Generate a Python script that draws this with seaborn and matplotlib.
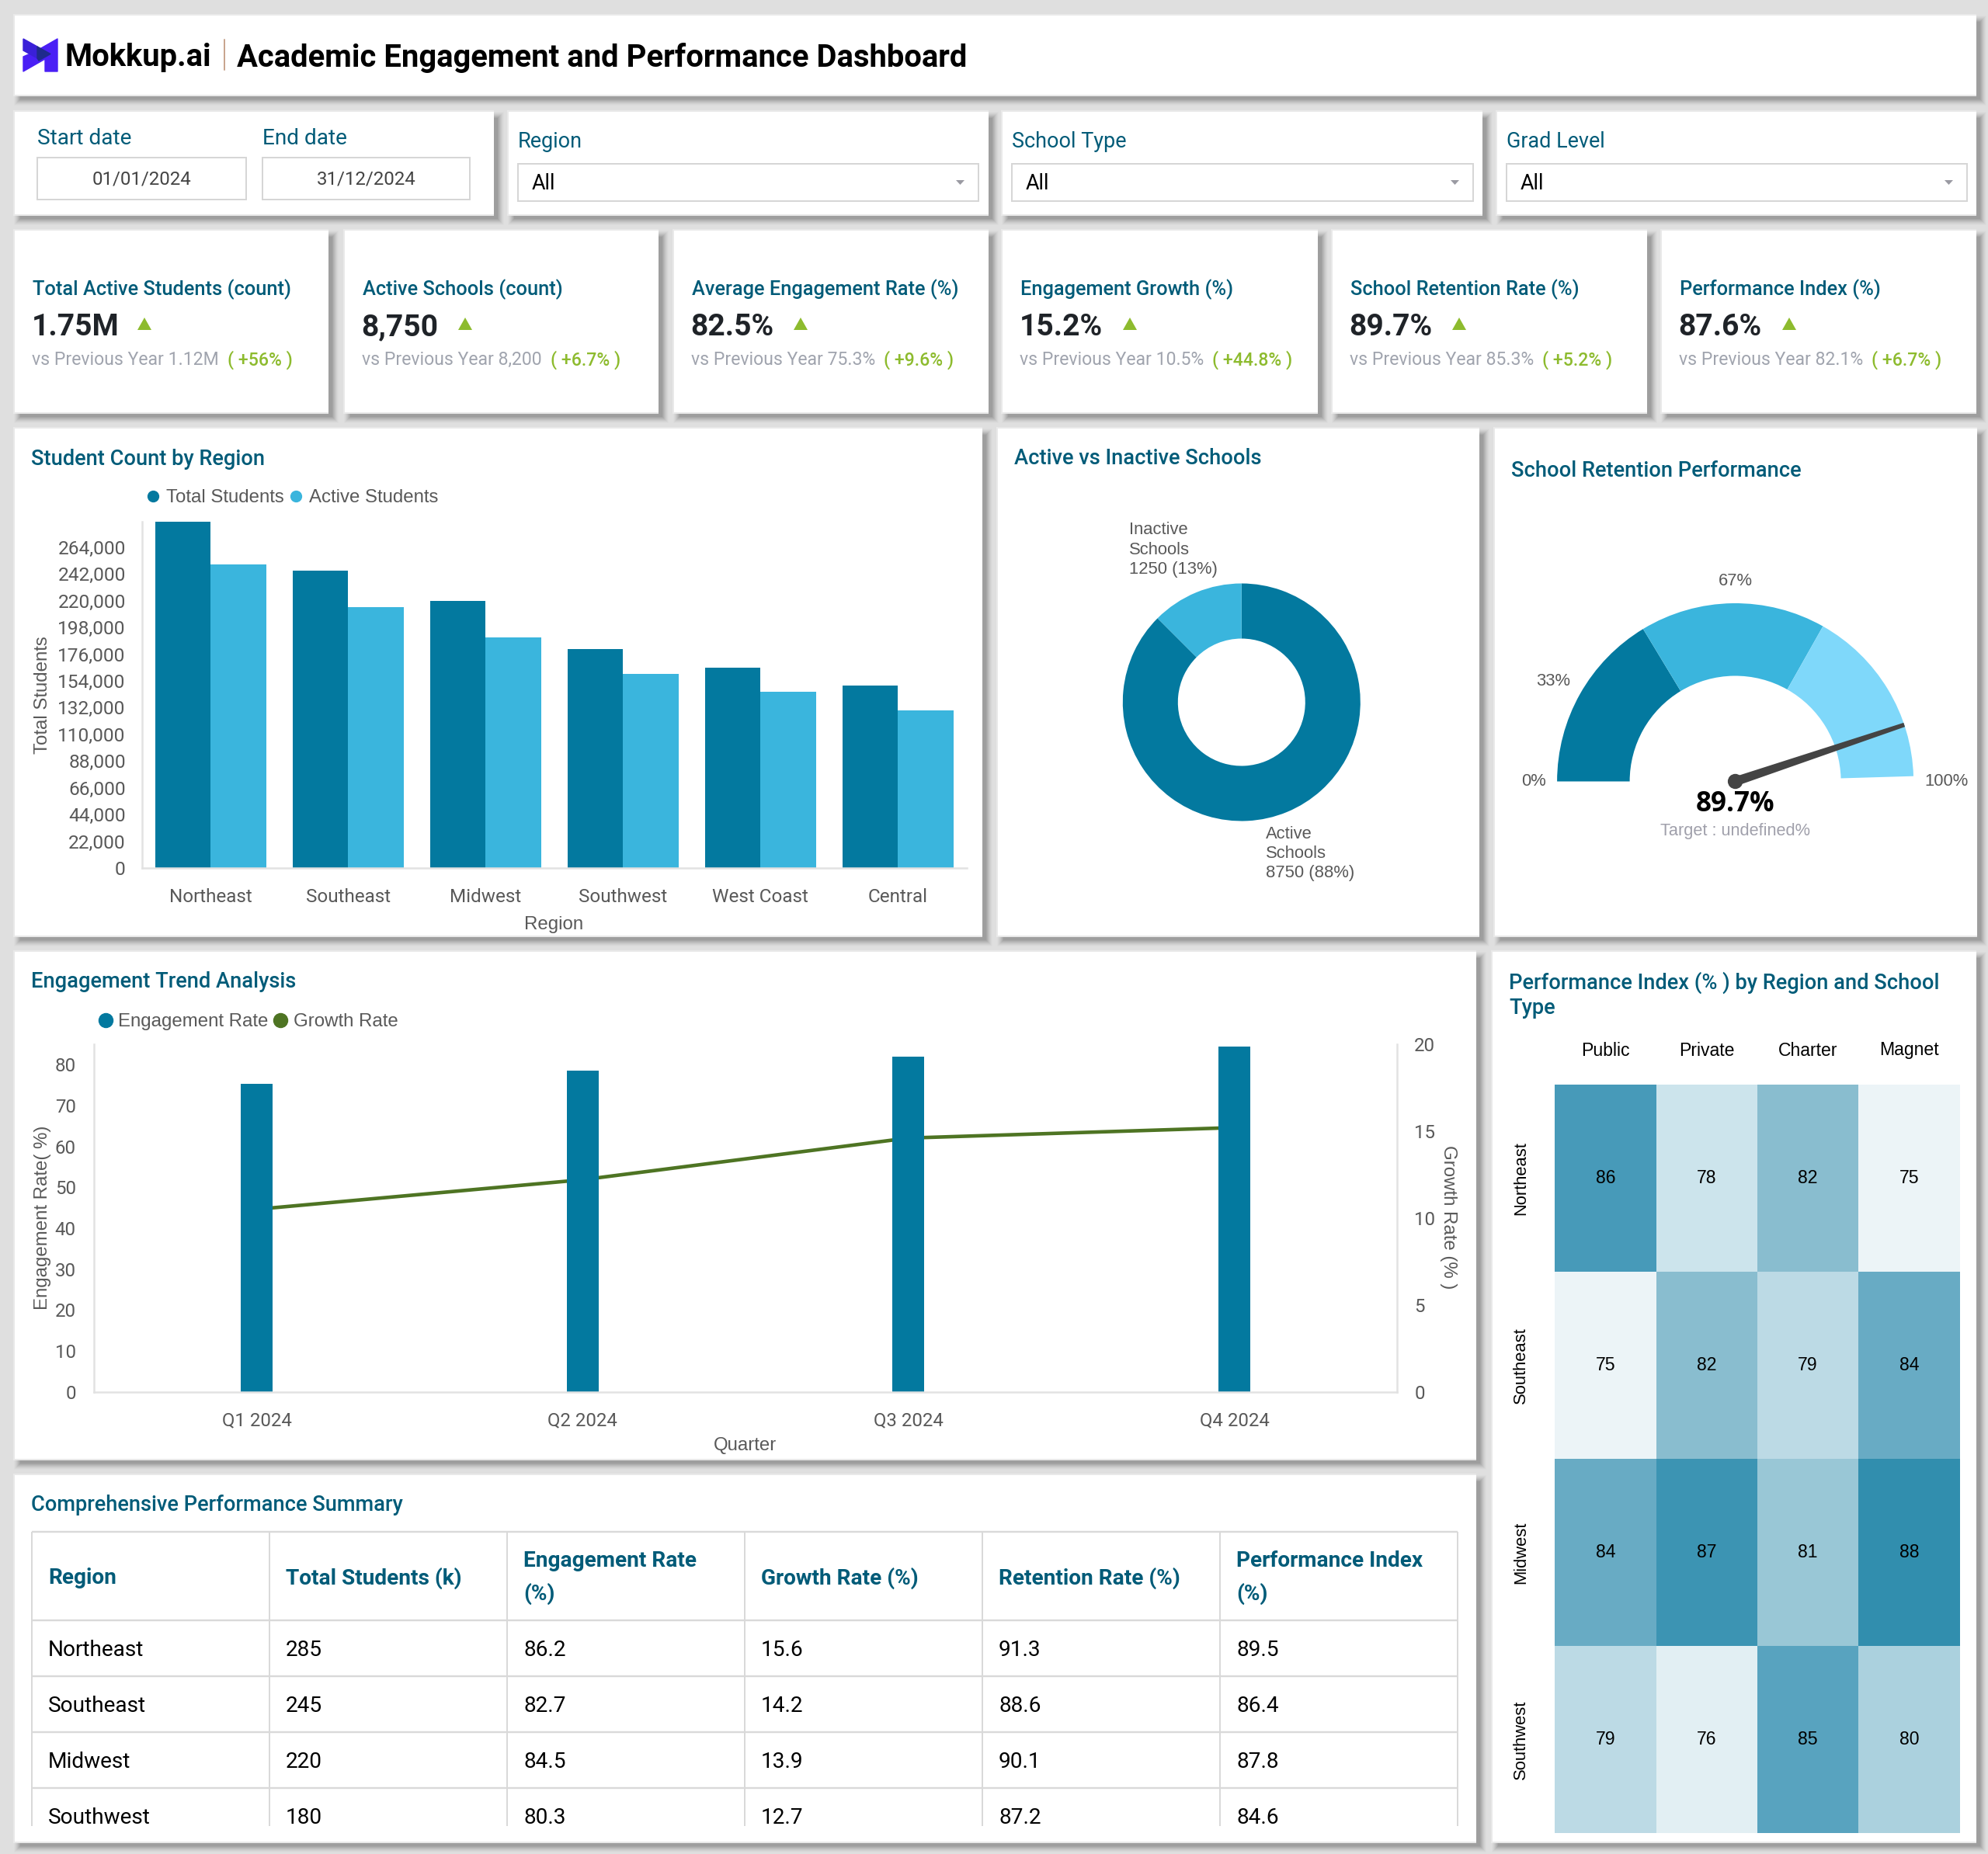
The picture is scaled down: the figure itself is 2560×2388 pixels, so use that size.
import numpy as np
import pandas as pd
import seaborn as sns
import matplotlib
matplotlib.use("Agg")
import matplotlib.pyplot as plt
from matplotlib.patches import Rectangle, Polygon, Circle
from matplotlib.lines import Line2D
from matplotlib.colors import LinearSegmentedColormap
from matplotlib.ticker import FuncFormatter

# ---------- data ----------
regions = ["Northeast", "Southeast", "Midwest", "Southwest", "West Coast", "Central"]
total_students = [285000, 245000, 220000, 180000, 165000, 150000]
active_students = [250000, 215000, 190000, 160000, 145000, 130000]
student_ticks = list(range(0, 264001, 22000))

school_labels = ["Active\nSchools\n8750 (88%)", "Inactive\nSchools\n1250 (13%)"]
school_values = [8750, 1250]

gauge_bands = [33, 34, 33]
gauge_ticks = ["0%", "33%", "67%", "100%"]
retention_value = 89.7

quarters = ["Q1 2024", "Q2 2024", "Q3 2024", "Q4 2024"]
engagement_rate = [75.3, 78.5, 82, 84.5]
growth_rate = [10.5, 12.2, 14.6, 15.2]

heat_cols = ["Public", "Private", "Charter", "Magnet"]
heat_rows = ["Northeast", "Southeast", "Midwest", "Southwest"]
heat_northeast = [86, 78, 82, 75]
heat_southeast = [75, 82, 79, 84]
heat_midwest = [84, 87, 81, 88]
heat_southwest = [79, 76, 85, 80]

table_headers = ["Region", "Total Students (k)", "Engagement Rate\n(%)", "Growth Rate (%)",
                 "Retention Rate (%)", "Performance Index\n(%)"]
table_regions = ["Northeast", "Southeast", "Midwest", "Southwest"]
table_students = ["285", "245", "220", "180"]
table_engagement = ["86.2", "82.7", "84.5", "80.3"]
table_growth = ["15.6", "14.2", "13.9", "12.7"]
table_retention = ["91.3", "88.6", "90.1", "87.2"]
table_performance = ["89.5", "86.4", "87.8", "84.6"]

kpi_titles = ["Total Active Students (count)", "Active Schools (count)", "Average Engagement Rate (%)",
              "Engagement Growth (%)", "School Retention Rate (%)", "Performance Index (%)"]
kpi_values = ["1.75M", "8,750", "82.5%", "15.2%", "89.7%", "87.6%"]
kpi_prev = ["1.12M", "8,200", "75.3%", "10.5%", "85.3%", "82.1%"]
kpi_delta = ["+56%", "+6.7%", "+9.6%", "+44.8%", "+5.2%", "+6.7%"]

# ---------- style ----------
W, H = 2560, 2388
DPI = 100
BG = "#DFDFDF"
TEAL = "#005B78"
C1, C2, C3 = "#03799F", "#3AB5DD", "#7FD8FA"
GREEN = "#8DBB2E"
GREY = "#595959"
AXLINE = "#E2E2E2"
ROB = ["Roboto", "DejaVu Sans"]
LIB = ["Liberation Sans", "DejaVu Sans"]

sns.set_theme(style="white")
plt.rcParams["font.family"] = ROB


def pt(px):
    return px * 72 / DPI


def pos(x0, y0, x1, y1):
    return [x0 / W, 1 - y1 / H, (x1 - x0) / W, (y1 - y0) / H]


fig = plt.figure(figsize=(W / DPI, H / DPI), dpi=DPI, facecolor=BG)
ax0 = fig.add_axes([0, 0, 1, 1], zorder=0)
ax0.set_xlim(0, W)
ax0.set_ylim(H, 0)
ax0.axis("off")


def T(x, y, s, px=24, color="black", family=ROB, weight=400, ha="left", va="center", **kw):
    return ax0.text(x, y + 3, s, fontsize=pt(px), color=color, family=family, fontweight=weight,
                    ha=ha, va=va, **kw)


def panel(x0, y0, x1, y1):
    for i, a in zip(range(9, 0, -1), [.02, .03, .04, .05, .06, .07, .08, .09, .10]):
        ax0.add_patch(Rectangle((x0 + 6 - i + 2, y0 + 7 - i + 2), x1 - x0 + 2 * i - 4, y1 - y0 + 2 * i - 4,
                                fc="#505050", ec="none", alpha=a, zorder=1))
    ax0.add_patch(Rectangle((x0 - 2, y0 - 2), x1 - x0 + 2, y1 - y0 + 4, fc="#E9E9E9", ec="none", zorder=1.5))
    ax0.add_patch(Rectangle((x0, y0), x1 - x0, y1 - y0, fc="white", ec="none", zorder=2))


def box(x0, y0, x1, y1):
    ax0.add_patch(Rectangle((x0, y0), x1 - x0, y1 - y0, fc="white", ec="#D6D6D6", lw=pt(2), zorder=3))


TZ = dict(zorder=5)

# panels
panel(19, 20, 2545, 122)
panel(19, 144, 636, 276)
panel(655, 144, 1273, 276)
panel(1291, 144, 1909, 276)
panel(1928, 144, 2545, 276)
kpi_x = [(19, 423), (444, 848), (868, 1273), (1291, 1697), (1716, 2121), (2140, 2545)]
for a, b in kpi_x:
    panel(a, 297, b, 531)
panel(19, 552, 1265, 1205)
panel(1285, 552, 1905, 1205)
panel(1925, 552, 2546, 1205)
panel(19, 1226, 1901, 1879)
panel(1922, 1226, 2545, 2372)
panel(19, 1900, 1901, 2372)

# header and logo
ax0.add_patch(Polygon([(74, 50), (74, 92), (58, 92), (58, 76), (30, 92), (30, 73), (46, 66)],
                      fc="#4A1FF5", ec="#4A1FF5", lw=1, joinstyle="round", zorder=4))
ax0.add_patch(Polygon([(30, 50), (48, 60), (48, 75), (30, 65)], fc="#3A20D8", ec="#3A20D8", lw=1, zorder=4))
ax0.add_patch(Polygon([(48, 60), (65, 69.5), (50, 78), (48, 75)], fc="#1F2A8C", ec="#1F2A8C", lw=1, zorder=4))
T(84, 71, "Mokkup.ai", 40, "black", weight=700, **TZ)
ax0.plot([288.5, 288.5], [51, 90], color="#C9A58F", lw=pt(2), zorder=5)
T(305, 71, "Academic Engagement and Performance Dashboard", 40, "black", weight=700, **TZ)

# filters
T(48, 175, "Start date", 28, TEAL, **TZ)
T(338, 175, "End date", 28, TEAL, **TZ)
box(48, 203, 317, 257)
box(338, 203, 605, 257)
T(182.5, 228, "01/01/2024", 24, "#444444", ha="center", **TZ)
T(471.5, 228, "31/12/2024", 24, "#444444", ha="center", **TZ)
for (x0, x1), lab in zip([(667, 1260), (1303, 1897), (1940, 2533)], ["Region", "School Type", "Grad Level"]):
    T(x0, 179, lab, 27, TEAL, **TZ)
    box(x0, 211, x1, 259)
    T(x0 + 18, 233, "All", 27, "black", **TZ)
    cx = x1 - 23.5
    ax0.add_patch(Polygon([(cx - 5.5, 232), (cx + 5.5, 232), (cx, 238)], fc="#9A9AA2", ec="none", zorder=5))

# KPI cards
for (a, b), title, val, prev, delta, tri in zip(kpi_x, kpi_titles, kpi_values, kpi_prev, kpi_delta,
                                                [186, 599, 1031, 1455, 1879, 2304]):
    T(a + 23, 370, title, 25.4, TEAL, weight=500, **TZ)
    T(a + 21.5, 418.5, val, 39, "#1F2328", weight=700, **TZ)
    ax0.add_patch(Polygon([(tri - 9, 425), (tri + 9, 425), (tri, 409)], fc=GREEN, ec="none", zorder=5))
    t = T(a + 22, 460.5, "vs Previous Year " + prev, 23, "#A0A4AE", **TZ)
    ex = t.get_window_extent(fig.canvas.get_renderer()).x1
    T(ex + 11, 460.5, "( " + delta + " )", 23, GREEN, weight=500, **TZ)

# panel titles
title_px = 27.2
T(40, 588.5, "Student Count by Region", title_px, TEAL, weight=500, **TZ)
T(1306, 588, "Active vs Inactive Schools", title_px, TEAL, weight=500, **TZ)
T(1946, 603, "School Retention Performance", title_px, TEAL, weight=500, **TZ)
T(40, 1262, "Engagement Trend Analysis", title_px, TEAL, weight=500, **TZ)
T(1943, 1263, "Performance Index (% ) by Region and School", title_px, TEAL, weight=500, **TZ)
T(1943, 1296, "Type", title_px, TEAL, weight=500, **TZ)
T(40, 1935, "Comprehensive Performance Summary", title_px, TEAL, weight=500, **TZ)


def style_axis(ax, spines):
    ax.patch.set_visible(False)
    for name, sp in ax.spines.items():
        sp.set_visible(name in spines)
        sp.set_color(AXLINE)
        sp.set_linewidth(pt(2.5))
    ax.grid(False)


def legend(ax, labels, colors, x, y, ms):
    handles = [Line2D([], [], ls="none", marker="o", ms=ms, mfc=c, mec=c, label=l) for l, c in zip(labels, colors)]
    ax.legend(handles=handles, loc="center left", bbox_to_anchor=(x, y), bbox_transform=ax0.transData, ncol=2,
              frameon=False, borderpad=0, borderaxespad=0, handlelength=1, handletextpad=.2, columnspacing=.15,
              labelcolor=GREY, prop={"family": LIB, "size": pt(24)})


# ---------- student bars ----------
ax = fig.add_axes(pos(182.8, 672, 1244.8, 1118), zorder=3)
df = pd.DataFrame({"Region": regions * 2,
                   "Students": total_students + active_students,
                   "Series": ["Total Students"] * 6 + ["Active Students"] * 6})
sns.barplot(data=df, x="Region", y="Students", hue="Series", order=regions,
            palette={"Total Students": C1, "Active Students": C2}, width=.81, gap=0, saturation=1,
            legend=False, ax=ax, linewidth=0)
ax.set_xlim(-.5, 5.5)
ax.set_ylim(0, 285000)
ax.set_yticks(student_ticks)
ax.yaxis.set_major_formatter(FuncFormatter(lambda v, _: f"{int(v):,}"))
style_axis(ax, ["left", "bottom"])
ax.tick_params(axis="y", length=0, pad=pt(21), labelsize=pt(24.5), labelcolor=GREY)
ax.tick_params(axis="x", length=0, pad=pt(25.5), labelsize=pt(24.3), labelcolor=GREY)
ax.set_xlabel("Region", family=LIB, fontsize=pt(24), color=GREY, va="center")
ax.xaxis.set_label_coords(713, 1191, transform=ax0.transData)
ax.set_ylabel("Total Students", family=LIB, fontsize=pt(24), color=GREY, va="center")
ax.yaxis.set_label_coords(55.5, 895, transform=ax0.transData)
legend(ax, ["Total Students", "Active Students"], [C1, C2], 185, 641, 10)

# ---------- donut ----------
R = 153
ax = fig.add_axes(pos(1598.8 - R, 904.5 - R, 1598.8 + R, 904.5 + R), zorder=3)
ax.pie(school_values, colors=[C1, C2], startangle=90, counterclock=False, radius=1,
       wedgeprops=dict(width=1 - 82 / 153, linewidth=0))
ax.set_xlim(-1, 1)
ax.set_ylim(-1, 1)
T(1454, 705, school_labels[1], 22, GREY, family=LIB, linespacing=1.26, **TZ)
T(1629.7, 1096.5, school_labels[0], 22, GREY, family=LIB, linespacing=1.26, **TZ)

# ---------- gauge ----------
R = 229.5
GCX, GCY = 2234.6, 1006.5
ax = fig.add_axes(pos(GCX - R, GCY - R, GCX + R, GCY + R), zorder=3)
sweep = 178.3
hidden = sum(gauge_bands) * (360 - sweep) / sweep
wedges, _ = ax.pie(gauge_bands + [hidden], colors=[C1, C2, C3, "none"], startangle=180, counterclock=False,
                   radius=1, wedgeprops=dict(width=1 - 136 / 229.5, linewidth=0))
ax.set_xlim(-1, 1)
ax.set_ylim(-1, 1)
theta = np.pi * (1 - retention_value / 100)
u = np.array([np.cos(theta), np.sin(theta)])
n = np.array([-u[1], u[0]])
ax.add_patch(Polygon([n * .026, u + n * .012, u - n * .012, -n * .026], fc="#444444", ec="none", zorder=5,
                     clip_on=False))
ax.add_patch(Circle((0, 0), 9.7 / 229.5, fc="#444444", ec="none", zorder=6, clip_on=False))
for (x, y), s in zip([(1975, 1003.4), (1999.7, 874.8), (2234.6, 746), (2507, 1003.4)], gauge_ticks):
    T(x, y, s, 22, GREY, family=LIB, ha="center", **TZ)
T(GCX, 1033, f"{retention_value}%", 35, "black", family=["Open Sans", "DejaVu Sans"], weight=700, ha="center", **TZ)
T(GCX, 1067.5, "Target : undefined%", 21.8, "#A0A0AB", family=LIB, ha="center", **TZ)

# ---------- trend ----------
ax = fig.add_axes(pos(120.8, 1345, 1799.3, 1792.5), zorder=4)
ax2 = ax.twinx()
ax2.set_zorder(3)
sns.barplot(x=quarters, y=engagement_rate, color=C1, saturation=1, width=.0977, ax=ax, linewidth=0)
sns.lineplot(x=list(range(len(quarters))), y=growth_rate, color="#4E7423", linewidth=pt(4.6), ax=ax2, legend=False)
ax.set_xlim(-.5, 3.5)
ax.set_ylim(0, 85)
ax.set_yticks(range(0, 81, 10))
ax2.set_ylim(0, 20)
ax2.set_yticks(range(0, 21, 5))
style_axis(ax, ["left", "bottom", "right"])
style_axis(ax2, [])
ax.tick_params(axis="y", length=0, pad=pt(23), labelsize=pt(24), labelcolor=GREY)
ax.tick_params(axis="x", length=0, pad=pt(25.5), labelsize=pt(24), labelcolor=GREY)
ax2.tick_params(axis="y", length=0, pad=pt(22), labelsize=pt(24), labelcolor=GREY)
ax.set_xlabel("Quarter", family=LIB, fontsize=pt(24), color=GREY, va="center")
ax.xaxis.set_label_coords(960, 1862, transform=ax0.transData)
ax.set_ylabel("Engagement Rate( %)", family=LIB, fontsize=pt(24), color=GREY, va="center")
ax.yaxis.set_label_coords(55.5, 1568, transform=ax0.transData)
ax2.set_ylabel("Growth Rate (% )", family=LIB, fontsize=pt(24), color=GREY, rotation=270, va="center")
ax2.yaxis.set_label_coords(1865, 1568, transform=ax0.transData)
legend(ax, ["Engagement Rate", "Growth Rate"], [C1, "#4E7423"], 123.7, 1316, 13)

# ---------- heatmap ----------
ax = fig.add_axes(pos(2002.3, 1397, 2523.5, 2361), zorder=3)
heat = pd.DataFrame([heat_northeast, heat_southeast, heat_midwest, heat_southwest], index=heat_rows, columns=heat_cols)
cmap = LinearSegmentedColormap.from_list("perf", [(0, "#ECF4F7"), (3 / 13, "#CCE4EC"), (7 / 13, "#89BDCF"),
                                                  (11 / 13, "#479AB9"), (1, "#318EAE")])
sns.heatmap(heat, annot=True, fmt="d", cmap=cmap, vmin=75, vmax=88, cbar=False, ax=ax,
            annot_kws=dict(color="black", fontsize=pt(23), family=LIB))
ax.xaxis.tick_top()
ax.set_xlabel("")
ax.set_ylabel("")
ax.tick_params(axis="x", length=0, pad=pt(32.5), labelsize=pt(23), labelcolor="black", rotation=0)
ax.tick_params(axis="y", length=0, pad=pt(33), labelsize=pt(22), labelcolor="black")
for lab in ax.get_xticklabels() + ax.get_yticklabels():
    lab.set_family(LIB)
for lab in ax.get_yticklabels():
    lab.set_rotation(90)
    lab.set_va("center")

# ---------- table ----------
col_x = [41, 347, 653, 959, 1265, 1571, 1877]
row_y = [1973, 2087, 2159, 2231, 2303]
for y in row_y:
    ax0.plot([col_x[0], col_x[-1]], [y, y], color="#D9D9D9", lw=pt(2.4), zorder=4, solid_capstyle="butt")
for x in col_x:
    ax0.plot([x, x], [row_y[0], 2352], color="#D9D9D9", lw=pt(2), zorder=4, solid_capstyle="butt")
for x, h in zip(col_x, table_headers):
    lines = h.split("\n")
    ys = [2030] if len(lines) == 1 else [2008, 2050]
    for y, s in zip(ys, lines):
        T(x + 21.5, y, s, 28, TEAL, weight=700, **TZ)
for c, col in enumerate([table_regions, table_students, table_engagement, table_growth, table_retention,
                         table_performance]):
    for y, s in zip([2122.5, 2194.5, 2266.5, 2338.5], col):
        T(col_x[c] + 21, y, s, 28, "black", **TZ)

fig.savefig("out.png", dpi=DPI, facecolor=BG)
